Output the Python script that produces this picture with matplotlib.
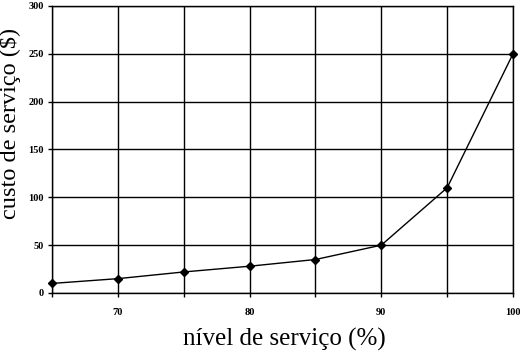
import matplotlib
matplotlib.use('Agg')
import matplotlib.pyplot as plt

nivel = [65, 70, 75, 80, 85, 90, 95, 100]       # nivel de servico (%)
custo = [10, 15, 22, 28, 35, 50, 110, 250]      # custo de servico ($)
x_labels = ['', '70', '', '80', '', '90', '', '100']
y_ticks = [0, 50, 100, 150, 200, 250, 300]

plt.rcParams['font.family'] = ['Liberation Serif', 'DejaVu Serif']

fig = plt.figure(figsize=(5.2, 3.54), dpi=100)
ax = fig.add_axes([52/520, 1 - 293/354, 461/520, 287/354])

ax.plot(nivel, custo, color='black', linewidth=1.0, marker='D', markersize=4,
        markerfacecolor='black', markeredgecolor='black', zorder=3, clip_on=False)

ax.set_xlim(65, 100)
ax.set_ylim(0, 300)
ax.set_xticks(nivel)
ax.set_xticklabels(x_labels)
ax.set_yticks(y_ticks)

ax.grid(True, color='black', linewidth=1.0)
ax.set_axisbelow(True)
for s in ax.spines.values():
    s.set_linewidth(1.0)
    s.set_color('black')

ax.tick_params(axis='both', direction='out', length=3, width=1.0, labelsize=7.5, pad=8)
for lbl in ax.get_xticklabels() + ax.get_yticklabels():
    lbl.set_fontweight('bold')
ax.tick_params(axis='y', pad=3)

ax.set_xlabel('nível de serviço (%)', fontsize=18)
ax.set_ylabel('custo de serviço ($)', fontsize=17.5)
ax.xaxis.set_label_coords(0.505, -0.122)
ax.yaxis.set_label_coords(-0.068, 0.59)

fig.savefig('out.png', dpi=100)
